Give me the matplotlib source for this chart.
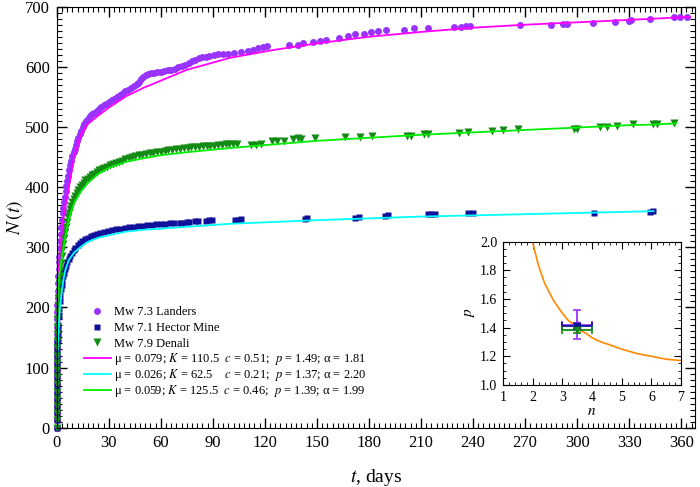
import numpy as np
import matplotlib.pyplot as plt
from matplotlib.ticker import MultipleLocator

plt.rcParams['font.family'] = ['Liberation Serif', 'DejaVu Serif']
plt.rcParams['mathtext.fontset'] = 'stix'

# --- data (t in days, cumulative N) ---
landers_t = [0, 0, 0, 0, 0.01, 0.02, 0.03, 0.04, 0.05, 0.07, 0.09, 0.11, 0.14, 0.17,
             0.21, 0.26, 0.32, 0.4, 0.5, 0.62, 0.76, 0.92, 1.1, 1.3, 1.5, 1.75, 2.0, 2.3,
             2.6, 3.0, 3.4, 3.8, 4.2, 4.6, 5.1, 5.6, 6.1, 6.7, 7.3, 7.9, 8.5, 9.1, 9.8,
             10.4, 11.1, 11.8, 12.5, 13.3, 14.1, 15.0, 16.0, 17.0, 18.0, 19.2, 20.4, 21.7,
             23.0, 24.4, 25.8, 27.2, 28.7, 30.2, 31.7, 33.2, 34.8, 36.4, 38.0, 39.6, 41.2,
             42.8, 44.4, 46.0, 47.4, 48.8, 50.0, 51.2, 52.6, 54.2, 56.0, 58, 60, 62, 64, 66,
             68, 70, 72, 74, 76, 78, 80, 82, 84, 86, 88, 90.5, 93, 96, 99, 102, 106, 110,
             113, 116, 119, 121,
             134, 139, 142, 148, 152, 155, 163, 168, 172, 177, 181, 185, 190, 200, 206, 214,
             229, 233, 236, 238, 267, 285, 292, 294, 309, 322, 330, 331, 342, 356, 359.5, 363.5]
landers_n = [0, 12, 24, 36, 48, 60, 72, 84, 96, 108, 120, 132, 144, 156,
             168, 180, 192, 204, 216, 228, 240, 252, 264, 276, 284, 298, 310, 322,
             334, 346, 357, 366, 376, 384, 394, 402, 410, 418, 428, 436, 444, 451, 458,
             464, 470, 476, 482, 488, 494, 500, 505, 510, 514, 518, 521, 524,
             527, 530, 533, 536, 538, 541, 544, 547, 550, 553, 556, 559, 562,
             565, 568, 571, 575, 579, 583, 586, 588, 589, 590, 591, 592, 593, 594, 595,
             597, 599, 601, 603, 606, 609, 612, 614, 616, 617, 618, 620, 621, 622, 622, 623, 624, 626,
             628, 631, 633, 634,
             637, 637, 640, 641, 643, 645, 648, 651, 654, 655, 658, 659, 661, 662, 664, 665,
             666, 667, 668, 668, 670, 670, 671, 672, 673, 675, 677, 678, 680, 682, 682, 683]

hector_t = [0, 0, 0, 0.01, 0.02, 0.03, 0.05, 0.07, 0.09, 0.12, 0.15, 0.19, 0.24, 0.3,
            0.38, 0.48, 0.6, 0.75, 0.95,
            1.2, 1.5, 1.8, 2.1, 2.5, 2.9, 3.3, 3.8, 4.3, 4.9, 5.5, 6.2, 7.0, 7.8, 8.7, 9.7,
            10.8, 12.0, 13.3, 14.7, 16.2, 17.8, 19.5, 21.3, 23.2, 25.2, 27.3, 29.5, 31.8,
            34.2, 36.7, 39.2, 41.8, 44.4, 47.0, 49.6, 52.2, 54.8, 57.4, 60.0, 62.6, 65.2, 67.8,
            71, 72.5, 75, 76.5, 80, 81.5, 86, 88, 89.5, 103, 104.5, 106, 143, 144, 172, 174,
            189, 191, 214, 216, 218, 237, 240, 310, 342, 344]
hector_n = [0, 12, 24, 34, 46, 58, 70, 80, 90, 100, 108, 116, 124, 132,
            140, 148, 155, 162, 170,
            185, 198, 210, 220, 230, 238, 245, 252, 258, 264, 269, 275, 281, 286, 291, 295,
            299, 303, 307, 310, 313, 316, 318, 320, 322, 324, 326, 327, 328,
            330, 331, 332, 333, 334, 335, 336, 337, 337, 338, 338, 339, 340, 340,
            341, 341, 342, 342, 343, 343, 344, 345, 345, 346, 346, 347, 347, 348, 348, 350,
            352, 353, 355, 356, 356, 357, 357, 357, 359, 360]

denali_t = [0, 0, 0, 0.01, 0.02, 0.03, 0.04, 0.06, 0.08, 0.1, 0.13, 0.17, 0.22, 0.28,
            0.36, 0.46, 0.6, 0.78, 1.0,
            1.25, 1.5, 1.8, 2.1, 2.5, 2.9, 3.3, 3.8, 4.3, 4.8, 5.3, 5.8, 6.4, 7.0, 7.6, 8.3,
            9.0, 9.8, 10.6, 11.5, 12.4, 13.4, 14.4, 15.5, 16.6, 17.8, 19.0, 20.3, 21.6, 23.0,
            24.4, 25.9, 27.4, 29.0, 30.6, 32.3, 34.0, 35.8, 37.6, 39.5, 41.4, 43.4, 45.4,
            47.4, 49.4, 51.5, 53.6, 55.7, 57.8, 60.0, 62.2, 64.4, 66.6, 68.8, 71.0, 73.2,
            75.4, 77.6, 79.8, 82.0, 84.2, 86.4, 88.6, 90.8, 93.0, 95.2, 97.4, 99.6, 101.8, 104.0,
            112, 115, 118, 124, 127, 131, 136, 139, 141, 149, 166, 175, 182, 202, 204, 212,
            214, 232, 237, 251, 257, 266, 298, 300, 313, 317, 323, 332, 344, 346, 356]
denali_n = [0, 12, 24, 36, 48, 60, 72, 84, 96, 108, 120, 132, 144, 156,
            168, 180, 192, 204, 216,
            228, 240, 252, 263, 274, 285, 296, 306, 316, 325, 334, 342, 350, 357, 363, 369,
            375, 381, 386, 391, 396, 400, 404, 407, 411, 414, 417, 420, 422, 425,
            428, 430, 432, 434, 436, 438, 440, 442, 444, 446, 448, 450, 451,
            453, 454, 455, 456, 457, 458, 459, 460, 461, 462, 463, 464, 465,
            465, 466, 467, 467, 468, 468, 469, 469, 470, 470, 471, 471, 472, 472,
            470, 470, 471, 476, 476, 476, 480, 481, 480, 482, 483, 483, 485, 485, 485, 488,
            488, 490, 491, 493, 495, 496, 497, 497, 500, 500, 501, 505, 505, 505, 507]

# fitted curves
fit_t = [0, 0.1, 0.3, 0.6, 1, 1.5, 2, 3, 4, 5, 7, 10, 14, 18, 24, 30, 40, 50, 60, 75,
         100, 125, 150, 180, 210, 240, 270, 300, 330, 344, 357, 365]
fit_landers = [0, 110, 190, 235, 262, 280, 298, 328, 352, 370, 400, 450, 488, 505, 519,
               532, 551, 565, 577, 595, 615, 628, 639, 650, 658, 665, 670, 674, 678, 680, 682, 683]
fit_hector = [0, 60, 110, 140, 160, 185, 203, 228, 248, 262, 279, 291, 301, 309, 316,
              320, 326, 329, 331, 334, 339, 342, 345, 348, 351, 353, 355, 357, 359, 360,
              np.nan, np.nan]
fit_denali = [0, 90, 170, 215, 240, 255, 265, 282, 300, 318, 348, 373, 393, 407, 422,
              432, 442, 448, 453, 458, 465, 471, 477, 482, 487, 491, 495, 499, 503, 504, 506,
              np.nan]

marker_labels = ['Mw 7.3 Landers', 'Mw 7.1 Hector Mine', 'Mw 7.9 Denali']
fit_labels = [r'μ = 0.079; $K$ = 110.5  $c$ = 0.51;  $p$ = 1.49; α = 1.81',
              r'μ = 0.026; $K$ = 62.5    $c$ = 0.21;  $p$ = 1.37; α = 2.20',
              r'μ = 0.059; $K$ = 125.5  $c$ = 0.46;  $p$ = 1.39; α = 1.99']

# inset: exponent p vs n
inset_n = [3.5, 3.5, 3.5]
inset_p = [1.42, 1.41, 1.38]
inset_nerr = [0.5, 0.5, 0.5]
inset_perr = [0.10, 0.02, 0.02]
curve_n = [2.0, 2.05, 2.1, 2.15, 2.2, 2.25, 2.3, 2.35, 2.4, 2.45, 2.5, 2.6, 2.7, 2.8,
           2.9, 3.0, 3.2, 3.4, 3.6, 3.8, 4.0, 4.3, 4.6, 5.0, 5.5, 6.0, 6.5, 7.0]
curve_p = [2.00, 1.95, 1.91, 1.87, 1.83, 1.80, 1.77, 1.74, 1.71, 1.69, 1.67, 1.63, 1.59,
           1.56, 1.53, 1.50, 1.45, 1.42, 1.38, 1.36, 1.33, 1.30, 1.28, 1.25, 1.22, 1.20,
           1.18, 1.17]

c_land, c_hect, c_den = '#9933ff', '#10109a', '#138a13'

fig = plt.figure(figsize=(7, 4.87), dpi=100)
ax = fig.add_axes([0.081, 0.1218, 0.912, 0.8645])

h1, = ax.plot(landers_t, landers_n, 'o', color=c_land, ms=5, mec='none', clip_on=False)
h2, = ax.plot(hector_t, hector_n, 's', color=c_hect, ms=4.3, mec='none', clip_on=False)
h3, = ax.plot(denali_t, denali_n, 'v', color=c_den, ms=5.5, mec='none', clip_on=False)
l1, = ax.plot(fit_t, fit_landers, color='#ff00ff', lw=1.3)
l2, = ax.plot(fit_t, fit_hector, color='#00ffff', lw=1.3)
l3, = ax.plot(fit_t, fit_denali, color='#00ee00', lw=1.3)

ax.set_xlim(0, 368)
ax.set_ylim(0, 700)
ax.xaxis.set_major_locator(MultipleLocator(30))
ax.xaxis.set_minor_locator(MultipleLocator(3))
ax.yaxis.set_major_locator(MultipleLocator(100))
ax.yaxis.set_minor_locator(MultipleLocator(10))
ax.tick_params(which='both', direction='in', top=True, right=True, labelsize=12)
ax.tick_params(which='major', length=7, width=1, pad=5)
ax.tick_params(which='minor', length=3.5, width=0.8)
ax.set_xlabel(r'$t$, days', fontsize=14, labelpad=12)
ax.set_ylabel(r'$N\,(t)$', fontsize=14)
ax.yaxis.set_label_coords(-0.05, 0.5)

leg1 = ax.legend([h1, h2, h3], marker_labels,
                 loc='upper left', bbox_to_anchor=(78 / 700, 1 - 300 / 487),
                 bbox_transform=fig.transFigure, frameon=False, fontsize=9,
                 handlelength=2.1, handletextpad=0.3, labelspacing=0.3, borderpad=0,
                 numpoints=1)
ax.add_artist(leg1)
leg2 = ax.legend([l1, l2, l3], fit_labels,
                 loc='upper left', bbox_to_anchor=(78 / 700, 1 - 345 / 487),
                 bbox_transform=fig.transFigure, frameon=False, fontsize=9,
                 handlelength=2.1, handletextpad=0.3, labelspacing=0.0, borderpad=0)

axin = fig.add_axes([0.7186, 0.2094, 0.2543, 0.2947])
axin.plot(curve_n, curve_p, color='#ff8800', lw=1.2)
for k, c, m in zip(range(3), [c_land, c_hect, c_den], ['o', 's', 'v']):
    axin.errorbar(inset_n[k], inset_p[k], xerr=inset_nerr[k], yerr=inset_perr[k],
                  fmt=m, color=c, ms=5, capsize=3, elinewidth=1.3, capthick=1.2)
axin.set_xlim(1, 7)
axin.set_ylim(1.0, 2.0)
axin.xaxis.set_major_locator(MultipleLocator(1))
axin.xaxis.set_minor_locator(MultipleLocator(0.2))
axin.yaxis.set_major_locator(MultipleLocator(0.2))
axin.yaxis.set_minor_locator(MultipleLocator(0.05))
axin.tick_params(which='both', direction='in', top=True, right=True, labelsize=10)
axin.tick_params(which='major', length=5, pad=4)
axin.tick_params(which='minor', length=2.5)
axin.set_xlabel(r'$n$', fontsize=11, labelpad=1)
axin.set_ylabel(r'$p$', fontsize=11, labelpad=2)

fig.savefig('out.png', dpi=100)
